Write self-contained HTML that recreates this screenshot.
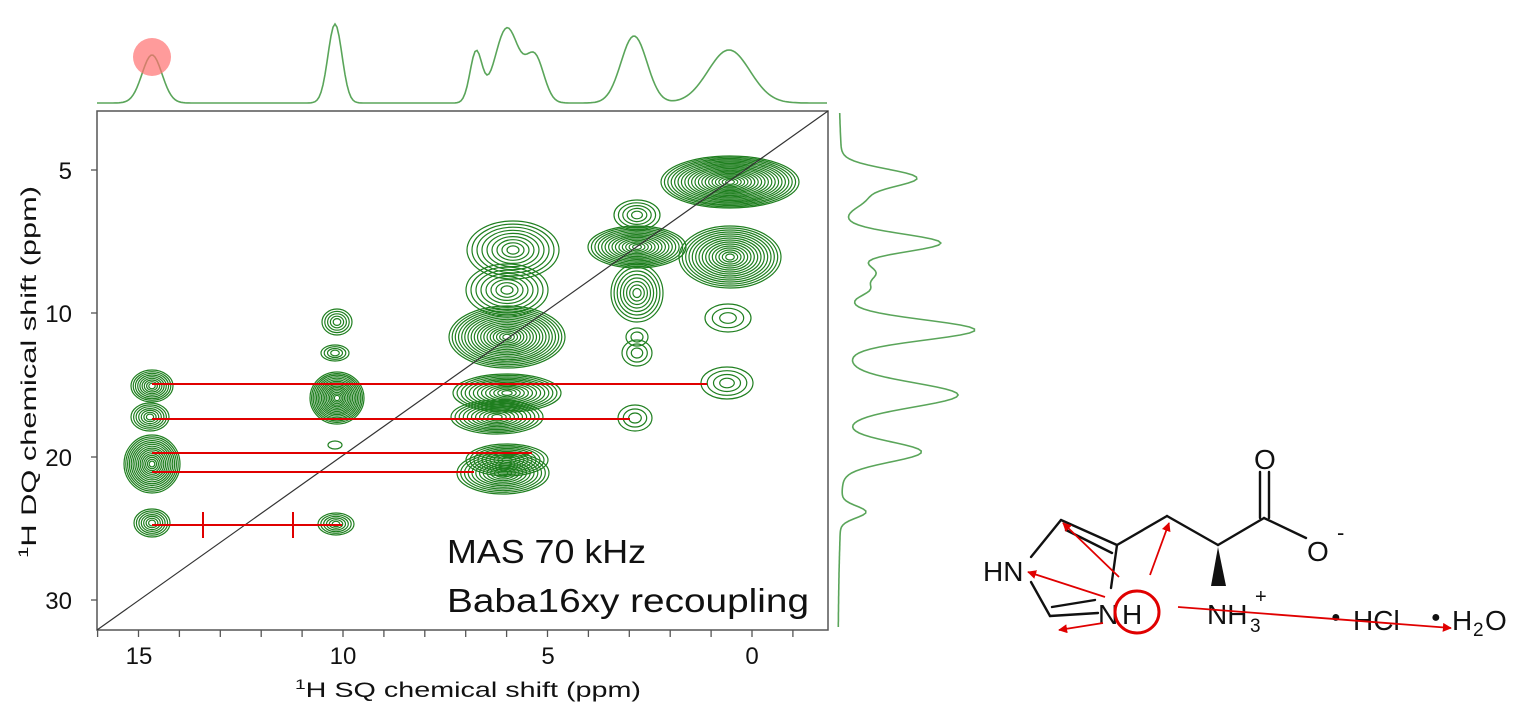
<!DOCTYPE html>
<html><head><meta charset="utf-8"><style>
html,body{margin:0;padding:0;background:#fff;}
svg{display:block;}
text{font-family:"Liberation Sans",sans-serif;}
</style></head><body>
<svg id="s" width="1532" height="711" viewBox="0 0 1532 711" xmlns="http://www.w3.org/2000/svg">
<rect width="1532" height="711" fill="#fff"/>
<g id="contours" fill="none" stroke="#1f7f1f" stroke-width="1.2"></g>
<path id="topproj" fill="none" stroke="#5aa55a" stroke-width="1.6"/>
<path id="rightproj" fill="none" stroke="#5aa55a" stroke-width="1.6"/>
<circle cx="152" cy="57" r="19" fill="#ff7070" fill-opacity="0.7"/>
<rect x="97" y="111" width="731" height="519" fill="none" stroke="#555" stroke-width="1.5"/>
<line x1="97" y1="630" x2="828" y2="111" stroke="#333" stroke-width="1.2"/>
<g id="ticks" stroke="#555" stroke-width="1.3"></g>
<g stroke="#e00000" stroke-width="2">
<line x1="152" y1="384" x2="707" y2="384"/>
<line x1="152" y1="419" x2="630" y2="419"/>
<line x1="152" y1="453" x2="532" y2="453"/>
<line x1="152" y1="472" x2="474" y2="472"/>
<line x1="152" y1="525" x2="342" y2="525"/>
<line x1="203" y1="512" x2="203" y2="538"/>
<line x1="293" y1="512" x2="293" y2="538"/>
</g>
<g font-size="24" fill="#111" text-anchor="middle">
<text x="139" y="664">15</text>
<text x="343" y="664">10</text>
<text x="548" y="664">5</text>
<text x="752" y="664">0</text>
<text x="72" y="179" text-anchor="end">5</text>
<text x="72" y="322" text-anchor="end">10</text>
<text x="72" y="466" text-anchor="end">20</text>
<text x="72" y="609" text-anchor="end">30</text>
</g>
<text x="468" y="697" font-size="21" text-anchor="middle" textLength="346" lengthAdjust="spacingAndGlyphs" fill="#111"><tspan font-size="14" dy="-8">1</tspan><tspan dy="8">H SQ chemical shift (ppm)</tspan></text>
<text transform="translate(36,372) rotate(-90)" font-size="21" text-anchor="middle" textLength="372" lengthAdjust="spacingAndGlyphs" fill="#111"><tspan font-size="14" dy="-8">1</tspan><tspan dy="8">H DQ chemical shift (ppm)</tspan></text>
<text x="447" y="563" font-size="33" fill="#111" textLength="199" lengthAdjust="spacingAndGlyphs">MAS 70 kHz</text>
<text x="447" y="612" font-size="33" fill="#111" textLength="362" lengthAdjust="spacingAndGlyphs">Baba16xy recoupling</text>

<g stroke="#111" stroke-width="2.4" fill="none" stroke-linecap="round">
<line x1="1031" y1="557" x2="1061" y2="520"/>
<line x1="1061" y1="520" x2="1117" y2="545"/>
<line x1="1066" y1="530" x2="1112" y2="553"/>
<line x1="1117" y1="545" x2="1111" y2="588"/>
<line x1="1098" y1="613" x2="1050" y2="616"/>
<line x1="1052" y1="607" x2="1095" y2="600"/>
<line x1="1050" y1="616" x2="1031" y2="582"/>
<line x1="1117" y1="545" x2="1167" y2="516"/>
<line x1="1167" y1="516" x2="1218" y2="545"/>
<line x1="1218" y1="545" x2="1264" y2="518"/>
<line x1="1260" y1="518" x2="1260" y2="472"/>
<line x1="1269" y1="518" x2="1269" y2="472"/>
<line x1="1264" y1="518" x2="1306" y2="538"/>
</g>
<polygon points="1218,547 1211,586 1226,586" fill="#111"/>
<g font-size="28" fill="#111">
<text x="1254" y="469">O</text>
<text x="1307" y="561">O</text>
<text x="1337" y="540" font-size="22">-</text>
<text x="983" y="581">HN</text>
<text x="1098" y="624">N</text>
<text x="1122" y="624">H</text>
<text x="1207" y="624">NH</text>
<text x="1250" y="632" font-size="19">3</text>
<text x="1255" y="603" font-size="20">+</text>
<text x="1331" y="622" font-size="16">●</text>
<text x="1353" y="630">HCl</text>
<text x="1431" y="622" font-size="16">●</text>
<text x="1452" y="630">H</text>
<text x="1473" y="636" font-size="19">2</text>
<text x="1485" y="630">O</text>
</g>
<ellipse cx="1137" cy="612" rx="22" ry="21" fill="none" stroke="#e00000" stroke-width="3"/>
<defs><marker id="ah" viewBox="0 0 10 10" refX="9" refY="5" markerWidth="5" markerHeight="5" orient="auto"><path d="M0,0 L10,5 L0,10 z" fill="#e00000"/></marker></defs>
<g stroke="#e00000" stroke-width="1.8" marker-end="url(#ah)">
<line x1="1119" y1="577" x2="1063" y2="523"/>
<line x1="1150" y1="575" x2="1169" y2="523"/>
<line x1="1105" y1="597" x2="1028" y2="572"/>
<line x1="1103" y1="623" x2="1059" y2="630"/>
<line x1="1178" y1="607" x2="1451" y2="628"/>
</g>
</svg>
<script>
var NS="http://www.w3.org/2000/svg";
var g=document.getElementById("contours");
var blobs=[[152,386,20,15,9],[150,417,18,13,7],[152,464,27,28,15],[152,523,17,13,7],
[337,322,14,12,5],[335,353,13,7,4],[337,398,26,25,16],[335,445,6,3,1],[336,524,17,10,6],
[513,250,45,28,9],[507,290,40,25,8],[507,337,57,30,18],[507,393,53,18,13],[497,417,45,16,11],[507,460,40,15,10],[503,473,45,20,12],
[730,182,68,25,20],[730,257,50,30,15],[637,247,48,20,14],[637,215,22,14,5],[637,293,25,28,8],[637,337,10,8,2],[637,353,14,12,3],[728,318,22,13,3],[727,383,25,15,4],[635,418,16,12,3]];
blobs.forEach(function(b){for(var i=0;i<b[4];i++){var f=1-i/b[4];var e=document.createElementNS(NS,"ellipse");
e.setAttribute("cx",b[0]);e.setAttribute("cy",b[1]);e.setAttribute("rx",(b[2]*f+1).toFixed(1));e.setAttribute("ry",(b[3]*f+1).toFixed(1));g.appendChild(e);}});
function gs(x,p){var s=0;p.forEach(function(q){s+=q[1]*Math.exp(-(x-q[0])*(x-q[0])/(2*q[2]*q[2]));});return s;}
var tp=[[152,48,10],[335,79,7],[476,50,6],[507,75,12],[535,45,9],[634,67,13],[729,53,21]];
var d="";for(var x=97;x<=828;x+=2){d+=(x==97?"M":"L")+x+","+(103-gs(x,tp)).toFixed(1);}
document.getElementById("topproj").setAttribute("d",d);
var rp=[[178,74,9],[200,19,8],[243,94,9],[273,27,8],[290,18,6],[330,125,10],[395,110,12],[452,77,10],[512,25,6],[330,12,110]];
d="";for(var y=113;y<=628;y+=2){d+=(y==113?"M":"L")+(838+gs(y,rp)).toFixed(1)+","+y;}
document.getElementById("rightproj").setAttribute("d",d);
var t=document.getElementById("ticks");
function ln(a,b,c,e){var l=document.createElementNS(NS,"line");l.setAttribute("x1",a);l.setAttribute("y1",b);l.setAttribute("x2",c);l.setAttribute("y2",e);t.appendChild(l);}
for(var p=16;p>=-1;p--){var xx=343+(10-p)*40.9;ln(xx,630,xx,637);}
[170,313,457,600].forEach(function(y){ln(91,y,97,y);});
</script>
</body></html>
